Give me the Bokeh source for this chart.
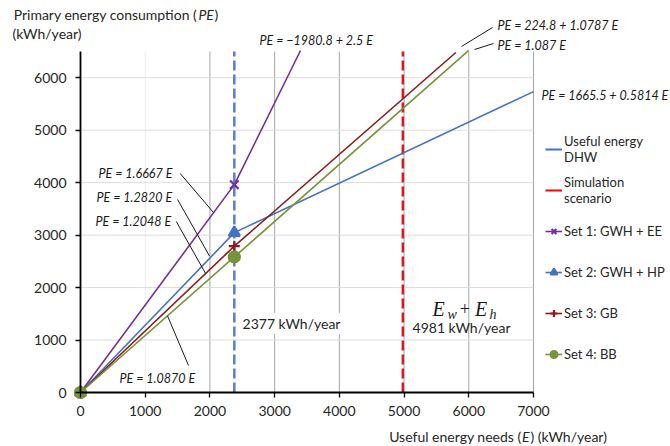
from bokeh.plotting import figure
from bokeh.models import Range1d, FixedTicker, Label, Arrow, Legend, LegendItem
from bokeh.embed import file_html
from bokeh.resources import INLINE

# Useful energy needs (kWh/year) for the DHW case and the simulation scenario
E_DHW = 2377
E_SIM = 4981

# Primary energy consumption curves, PE (kWh/year) against useful energy E (kWh/year)
set1_E = [0, 2377, 3400]
set1_PE = [0, 3962, 6519]
set2_E = [0, 2377, 7000]
set2_PE = [0, 3047, 5735]
set3_E = [0, 2377, 5800]
set3_PE = [0, 2789, 6481]
set4_E = [0, 2377, 6000]
set4_PE = [0, 2584, 6522]

x_ticks = [0, 1000, 2000, 3000, 4000, 5000, 6000, 7000]
y_ticks = [0, 1000, 2000, 3000, 4000, 5000, 6000]
X_MAX = 7000
Y_MAX = 6500

PURPLE = "#7030A0"
BLUE = "#4472C4"
DARKRED = "#8C1C1C"
GREEN = "#77933C"
VBLUE = "#5B7BD5"
VRED = "#E0161E"
TXT = "#262626"
FONT = "Lato"

# page geometry: the plotting area spans 0..X_MAX over 453 px and 0..Y_MAX over 341 px,
# with 80 px to its left and 54 px below it; the ranges cover the whole canvas so the
# surrounding texts and the legend are drawn inside the same frame
W, H = 670, 446
LEFT, BOTTOM, AREA_W, AREA_H = 80, 54, 453, 341
sx = AREA_W / X_MAX
sy = AREA_H / Y_MAX
x_range = Range1d(-LEFT / sx, (W - LEFT) / sx)
y_range = Range1d(-BOTTOM / sy, (H - BOTTOM) / sy)

p = figure(width=W, height=H, x_range=x_range, y_range=y_range,
           min_border=0, min_border_left=0, min_border_right=0, min_border_top=0, min_border_bottom=0,
           output_backend="svg", toolbar_location=None, outline_line_color=None,
           background_fill_color="white", border_fill_color="white")
p.grid.visible = False

# grid lines inside the plotting area
p.segment(x0=[1000], y0=[0], x1=[1000], y1=[Y_MAX], line_color="#ececec", line_width=1)
p.segment(x0=x_ticks[2:], y0=[0] * 6, x1=x_ticks[2:], y1=[Y_MAX] * 6, line_color="#a6a6a6", line_width=1)
p.segment(x0=[0] * 6, y0=y_ticks[1:], x1=[X_MAX] * 6, y1=y_ticks[1:], line_color="#dcdcdc", line_width=1)

# axes crossing at the origin
p.xaxis.fixed_location = 0
p.yaxis.fixed_location = 0
p.xaxis.bounds = (0, X_MAX)
p.yaxis.bounds = (0, Y_MAX)
for ax, ticks in ((p.xaxis, x_ticks), (p.yaxis, y_ticks)):
    ax.ticker = FixedTicker(ticks=ticks)
    ax.axis_line_width = 1.8
    ax.axis_line_color = "black"
    ax.major_tick_line_color = "black"
    ax.major_tick_line_width = 1.3
    ax.major_tick_out = 5
    ax.major_tick_in = 0
    ax.minor_tick_line_color = None
    ax.major_label_text_font = FONT
    ax.major_label_text_font_size = "14px"
    ax.major_label_text_color = TXT
p.xaxis.major_label_standoff = 8
p.yaxis.major_label_standoff = 9

# reference lines
p.line([E_DHW, E_DHW], [0, Y_MAX], line_color=VBLUE, line_width=2.5, line_dash="10 4")
p.line([E_SIM, E_SIM], [0, Y_MAX], line_color=VRED, line_width=2.5, line_dash="10 4")

# curves
sets = [
    (set1_E, set1_PE, PURPLE, "x", 12, "Set 1: GWH + EE"),
    (set2_E, set2_PE, BLUE, "triangle", 11, "Set 2: GWH + HP"),
    (set3_E, set3_PE, DARKRED, "cross", 11, "Set 3: GB"),
    (set4_E, set4_PE, GREEN, "circle", 11, "Set 4: BB"),
]
nan = float("nan")
legend_items = []
lg_dhw = p.line([nan, nan], [nan, nan], line_color=BLUE, line_width=2)
lg_sim = p.line([nan, nan], [nan, nan], line_color="#FF0000", line_width=2)
legend_items.append(LegendItem(label="Useful energy\nDHW", renderers=[lg_dhw]))
legend_items.append(LegendItem(label="Simulation\nscenario", renderers=[lg_sim]))
for xs, ys, col, mk, sz, name in sets:
    ln = p.line(xs, ys, line_color=col, line_width=1.6)
    sc = p.scatter(xs[:2], ys[:2], marker=mk, size=sz, line_color=col, fill_color=col, line_width=2.2)
    legend_items.append(LegendItem(label=name, renderers=[ln, sc]))

legend = Legend(items=legend_items, location=(545, 75), orientation="vertical",
                label_text_font=FONT, label_text_font_size="13px", label_text_color=TXT,
                glyph_width=17, glyph_height=20, label_height=35, spacing=6,
                label_standoff=2, padding=0, margin=0,
                border_line_color=None, background_fill_alpha=0)
p.add_layout(legend)

# equation annotations
eq_style = dict(text_font=FONT, text_font_style="italic", text_font_size="12.5px",
                text_color="#1a1a1a", text_baseline="middle", text_align="left")
equations = [
    ("PE = \u22121980.8 + 2.5 E", 2766, 6710),
    ("PE = 224.8 + 1.0787 E", 6444, 6996),
    ("PE = 1.087 E", 6444, 6615),
    ("PE = 1665.5 + 0.5814 E", 7124, 5662),
    ("PE = 1.6667 E", 278, 4175),
    ("PE = 1.2820 E", 247, 3717),
    ("PE = 1.2048 E", 232, 3260),
    ("PE = 1.0870 E", 603, 267),
]
for t, x, y in equations:
    p.add_layout(Label(x=x, y=y, text=t, **eq_style))

leaders = [
    (1540, 4175, 2055, 3431),
    (1500, 3679, 1994, 2600),
    (1480, 3260, 1932, 2270),
    (1345, 1460, 1669, 515),
    (5888, 6596, 6367, 6958),
    (6089, 6538, 6383, 6653),
]
for x0, y0, x1, y1 in leaders:
    p.add_layout(Arrow(x_start=x0, y_start=y0, x_end=x1, y_end=y1, end=None, start=None,
                       line_color="#1a1a1a", line_width=1))

# value labels for the two vertical markers
p.add_layout(Label(x=2473, y=1315, text=f"{E_DHW} kWh/year", text_font=FONT, text_font_size="14px",
                   text_color=TXT, text_baseline="middle", background_fill_color="white",
                   padding=2))
p.add_layout(Label(x=5131, y=1239, text=f"{E_SIM} kWh/year", text_font=FONT, text_font_size="14px",
                   text_color=TXT, text_baseline="middle"))

math_style = dict(text_font="Liberation Serif", text_font_style="italic", text_color="#1a1a1a",
                  text_baseline="middle", text_align="left")
p.add_layout(Label(x=5440, y=1601, text="E", text_font_size="20px", **math_style))
p.add_layout(Label(x=5671, y=1490, text="w", text_font_size="14px", **math_style))
p.add_layout(Label(x=5940, y=1601, text="+", text_font_size="18px",
                   **{**math_style, "text_font_style": "normal", "text_align": "center"}))
p.add_layout(Label(x=6095, y=1601, text="E", text_font_size="20px", **math_style))
p.add_layout(Label(x=6320, y=1490, text="h", text_font_size="14px", **math_style))

# axis titles
title_style = dict(text_font=FONT, text_font_size="14px", text_color=TXT, text_baseline="middle")
p.add_layout(Label(x=1808, y=7205, text="Primary energy consumption (", text_align="right", **title_style))
p.add_layout(Label(x=1823, y=7205, text="PE", text_align="left", text_font_style="italic", **title_style))
p.add_layout(Label(x=2070, y=7205, text=")", text_align="left", **title_style))
p.add_layout(Label(x=-1051, y=6843, text="(kWh/year)", text_align="left", **title_style))

p.add_layout(Label(x=6815, y=-839, text="Useful energy needs (", text_align="right", **title_style))
p.add_layout(Label(x=6821, y=-839, text="E", text_align="left", text_font_style="italic", **title_style))
p.add_layout(Label(x=6954, y=-839, text=") (kWh/year)", text_align="left", **title_style))

open("out.html", "w").write(file_html(p, INLINE))
